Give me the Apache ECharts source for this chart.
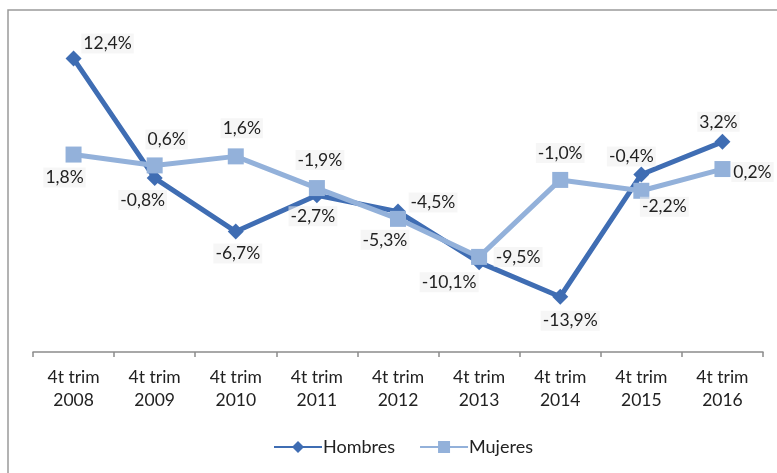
<!DOCTYPE html>
<html>
<head>
    <meta charset="utf-8">
    <title>Hombres / Mujeres</title>
    <script src="https://cdn.jsdelivr.net/npm/echarts@6/dist/echarts.min.js"></script>
    <style>
        html, body { margin: 0; padding: 0; background: #fff; }
        #main { width: 777px; height: 473px; }
    </style>
</head>
<body>
    <div id="main"></div>
    <script type="text/javascript">
        // datos
        var categorias = ['4t trim\n2008', '4t trim\n2009', '4t trim\n2010', '4t trim\n2011', '4t trim\n2012',
                          '4t trim\n2013', '4t trim\n2014', '4t trim\n2015', '4t trim\n2016'];
        var hombres = [12.4, -0.8, -6.7, -2.7, -4.5, -10.1, -13.9, -0.4, 3.2];
        var mujeres = [1.8, 0.6, 1.6, -1.9, -5.3, -9.5, -1.0, -2.2, 0.2];

        // desplazamiento de cada etiqueta respecto al punto
        var offHombres = [[34, -15], [-12, 22], [2, 22], [-4, 21], [35, -9], [-30, 20], [10, 24], [-10, -18], [-4, -20]];
        var offMujeres = [[-9, 23], [12, -26], [6, -28], [3, -28], [-13, 21], [39, 0], [0, -27], [23, 16], [30, 3]];

        var fuente = 'Lato, "Open Sans", sans-serif';

        function puntos(valores, offsets) {
            var out = [];
            for (var i = 0; i < valores.length; i++) {
                out.push({ value: valores[i], label: { offset: offsets[i] } });
            }
            return out;
        }

        var etiqueta = {
            show: true,
            position: 'inside',
            align: 'center',
            verticalAlign: 'middle',
            color: '#222',
            fontFamily: fuente,
            fontSize: 17.5,
            backgroundColor: 'rgba(238,238,238,0.55)',
            padding: [1, 2],
            formatter: function (p) {
                return p.value.toFixed(1).replace('.', ',') + '%';
            }
        };

        var myChart = echarts.init(document.getElementById('main'));
        var option = {
            animation: false,
            graphic: [{
                type: 'rect',
                shape: { x: 8, y: 10, width: 800, height: 500 },
                style: { fill: 'none', stroke: '#9a9a9a', lineWidth: 1.5 },
                silent: true
            }],
            grid: { left: 33, right: 14, top: 35, bottom: 121 },
            legend: {
                bottom: 12,
                left: 268,
                itemWidth: 48,
                itemHeight: 15,
                itemGap: 24,
                textStyle: { fontFamily: fuente, fontSize: 18, color: '#222', padding: [0, 0, 0, -4] },
                data: ['Hombres', 'Mujeres']
            },
            xAxis: {
                type: 'category',
                data: categorias,
                axisLine: { onZero: false, lineStyle: { color: '#8c8c8c', width: 1.5 } },
                axisTick: { show: true, length: 5, lineStyle: { color: '#8c8c8c', width: 1.5 } },
                axisLabel: {
                    color: '#222',
                    fontFamily: fuente,
                    fontSize: 17.5,
                    lineHeight: 23,
                    margin: 14
                }
            },
            yAxis: {
                type: 'value',
                min: -20,
                max: 15,
                interval: 5,
                show: false,
                splitLine: { show: false }
            },
            series: [{
                name: 'Hombres',
                type: 'line',
                data: puntos(hombres, offHombres),
                symbol: 'diamond',
                symbolSize: 16,
                z: 2,
                itemStyle: { color: '#3f6db3' },
                lineStyle: { color: '#3f6db3', width: 5 },
                label: etiqueta
            }, {
                name: 'Mujeres',
                type: 'line',
                data: puntos(mujeres, offMujeres),
                symbol: 'rect',
                symbolSize: 16,
                z: 3,
                itemStyle: { color: '#93b1da' },
                lineStyle: { color: '#93b1da', width: 5 },
                label: etiqueta
            }]
        };
        myChart.setOption(option);
    </script>
</body>
</html>
